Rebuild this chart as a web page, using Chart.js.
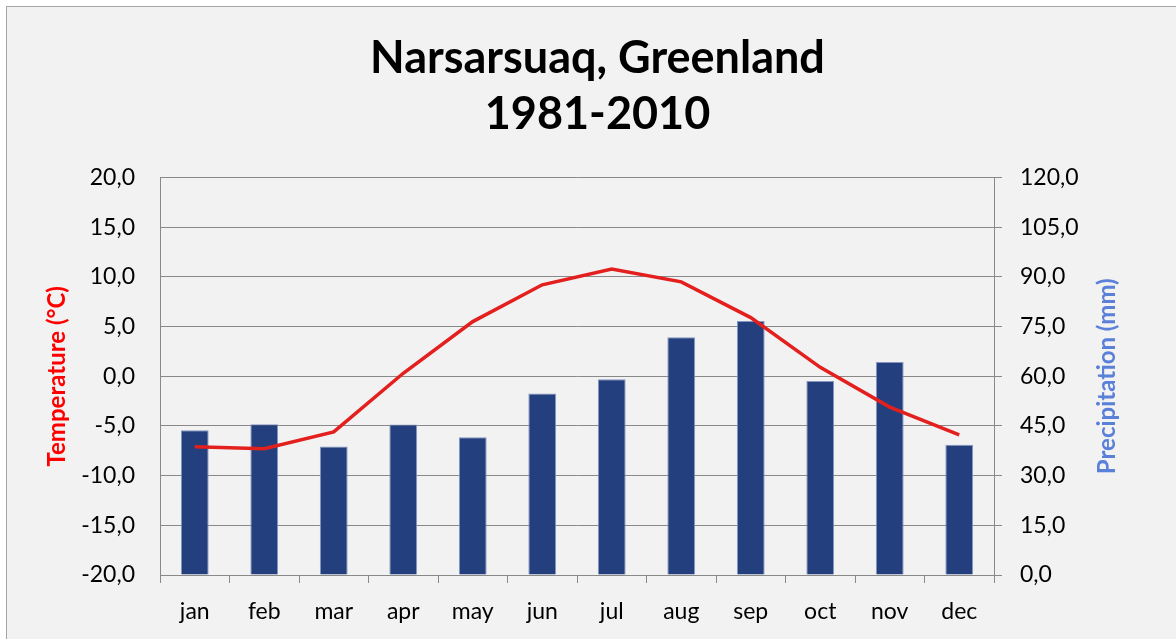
<!DOCTYPE html>
<html>
<head>
<meta charset="utf-8">
<script src="https://cdn.jsdelivr.net/npm/chart.js@4"></script>
<style>
  body { margin: 0; background: #ffffff; }
  #box {
    position: absolute; left: 6px; top: 6px;
    width: 1169px; height: 632px;
    background: #f2f2f2;
    border-left: 1px solid #a6a6a6;
    border-top: 1px solid #a6a6a6;
  }
</style>
</head>
<body>
<div id="box"><canvas id="climate"></canvas></div>
<script>
const months = ['jan', 'feb', 'mar', 'apr', 'may', 'jun', 'jul', 'aug', 'sep', 'oct', 'nov', 'dec'];
const temperature = [-7.1, -7.3, -5.6, 0.3, 5.5, 9.2, 10.8, 9.5, 5.9, 0.9, -3.1, -5.9];
const precipitation = [43.7, 45.5, 38.8, 45.4, 41.6, 54.8, 59.1, 71.8, 76.7, 58.6, 64.3, 39.3];
const tempTicks = ['-20,0', '-15,0', '-10,0', '-5,0', '0,0', '5,0', '10,0', '15,0', '20,0'];
const precipTicks = ['0,0', '15,0', '30,0', '45,0', '60,0', '75,0', '90,0', '105,0', '120,0'];

const gridColor = '#898989';
const tickFont = { family: 'Lato', size: 23 };

// chart.js turns a right-hand title top-to-bottom; Excel reads it bottom-to-top
const rightTitle = {
    id: 'rightTitle',
    afterDraw(chart) {
        const scale = chart.scales.y1;
        const c = chart.ctx;
        c.save();
        c.translate(scale.right - 69, (chart.chartArea.top + chart.chartArea.bottom) / 2);
        c.rotate(-Math.PI / 2);
        c.font = 'bold 24px Lato';
        c.fillStyle = '#5a80d8';
        c.textAlign = 'center';
        c.textBaseline = 'middle';
        c.fillText('Precipitation (mm)', 0, 0);
        c.restore();
    }
};

const ctx = document.getElementById('climate').getContext('2d');

const chart = new Chart(ctx, {
    type: 'bar',
    data: {
        labels: months,
        datasets: [{
            type: 'line',
            label: 'Temperature',
            data: temperature,
            yAxisID: 'y',
            borderColor: '#e3201e',
            borderWidth: 3.5,
            pointRadius: 0,
            tension: 0,
            order: 0
        }, {
            type: 'bar',
            label: 'Precipitation',
            data: precipitation,
            yAxisID: 'y1',
            backgroundColor: '#243f7e',
            borderColor: '#8496c2',
            borderWidth: 1,
            categoryPercentage: 1,
            barPercentage: 0.4,
            order: 1
        }]
    },
    options: {
        responsive: true,
        maintainAspectRatio: false,
        animation: false,
        layout: { padding: { left: 12, right: 0, top: 0, bottom: 0 } },
        scales: {
            x: {
                grid: { drawOnChartArea: false, offset: true, tickLength: 8, color: gridColor },
                border: { color: gridColor },
                ticks: { color: '#000', font: tickFont, padding: 15 },
                afterFit: (scale) => { scale.height = 64; }
            },
            y: {
                position: 'left',
                min: -20,
                max: 20,
                ticks: {
                    stepSize: 5,
                    color: '#000',
                    font: tickFont,
                    padding: 25,
                    callback: (value, i) => tempTicks[i]
                },
                grid: { color: gridColor, drawTicks: false },
                border: { color: gridColor },
                title: {
                    display: true,
                    text: 'Temperature (°C)',
                    color: '#ff0000',
                    font: { family: 'Lato', size: 24, weight: 'bold' },
                    padding: { top: 24, bottom: 0 }
                },
                afterFit: (scale) => { scale.width = 141; }
            },
            y1: {
                position: 'right',
                min: 0,
                max: 120,
                ticks: {
                    stepSize: 15,
                    color: '#000',
                    font: tickFont,
                    padding: 18,
                    callback: (value, i) => precipTicks[i]
                },
                grid: { drawOnChartArea: false, tickLength: 8, color: gridColor },
                border: { color: gridColor },
                afterFit: (scale) => { scale.width = 182; }
            }
        },
        plugins: {
            legend: { display: false },
            tooltip: { enabled: false },
            title: {
                display: true,
                text: ['Narsarsuaq, Greenland', '1981-2010'],
                color: '#000',
                font: { family: 'Lato', size: 45, weight: 'bold', lineHeight: 1.25 },
                padding: { top: 23, bottom: 35 }
            }
        }
    },
    plugins: [rightTitle]
});
</script>
</body>
</html>
